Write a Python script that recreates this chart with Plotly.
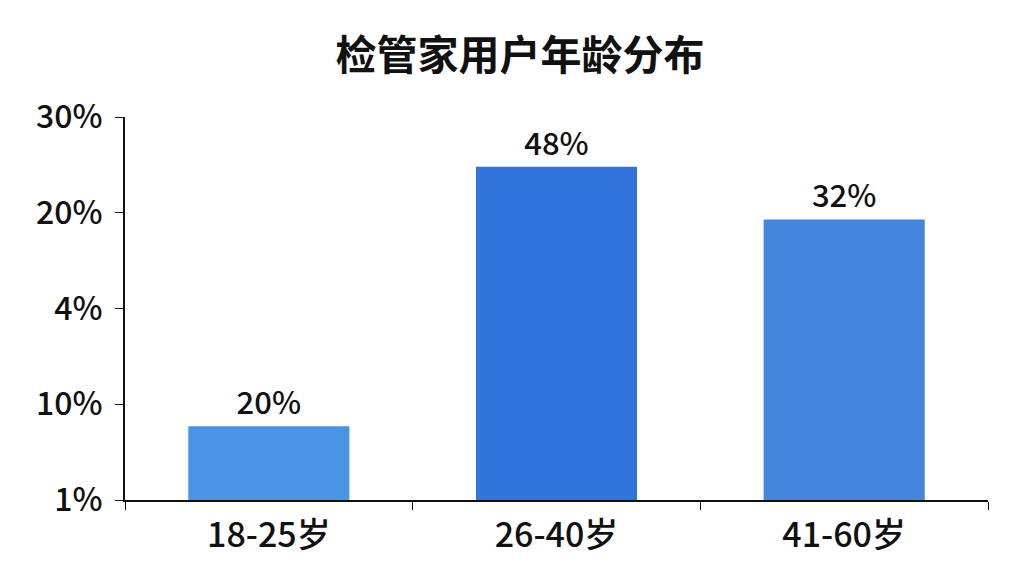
import plotly.graph_objects as go

# categories and bar heights (in axis tick units as drawn in the picture)
ageGroups = ['18-25岁', '26-40岁', '41-60岁']
barHeights = [0.77, 3.48, 2.93]
barLabels = ['20%', '48%', '32%']
barColors = ['#4b93e4', '#3174db', '#4585de']

# y tick positions and their (odd) labels
tickPos = [0, 1, 2, 3, 4]
tickText = ['1%', '10%', '4%', '20%', '30%']

FONT = 'Noto Sans CJK SC, Noto Sans, sans-serif'

fig = go.Figure()
fig.add_trace(go.Bar(
    x=ageGroups,
    y=barHeights,
    text=barLabels,
    textposition='outside',
    cliponaxis=False,
    textfont=dict(size=31, color='#111111', family=FONT, weight=500),
    marker=dict(color=barColors, line=dict(width=0)),
))

fig.update_layout(
    width=1024, height=576,
    paper_bgcolor='white', plot_bgcolor='white',
    margin=dict(l=117, r=44, t=109, b=84),
    bargap=0.44,
    showlegend=False,
    title=dict(text='检管家用户年龄分布', x=0.5, xanchor='center',
               y=0.918, yanchor='middle',
               font=dict(size=41, color='#111111', family=FONT, weight=700)),
    font=dict(family=FONT, color='#111111'),
)

fig.update_xaxes(
    showline=True, linecolor='#111111', linewidth=2,
    ticks='outside', tickson='boundaries', ticklen=8, tickcolor='#111111',
    tickfont=dict(size=34, color='#111111', weight=500),
    ticklabelstandoff=4,
    showgrid=False,
)
fig.update_yaxes(
    range=[0, 4], tickvals=tickPos, ticktext=tickText,
    showline=True, linecolor='#111111', linewidth=2,
    ticks='outside', ticklen=8, tickcolor='#111111',
    tickfont=dict(size=32, color='#111111', weight=500),
    ticklabelstandoff=6,
    showgrid=False, zeroline=False,
)

fig.write_html("out.html")
